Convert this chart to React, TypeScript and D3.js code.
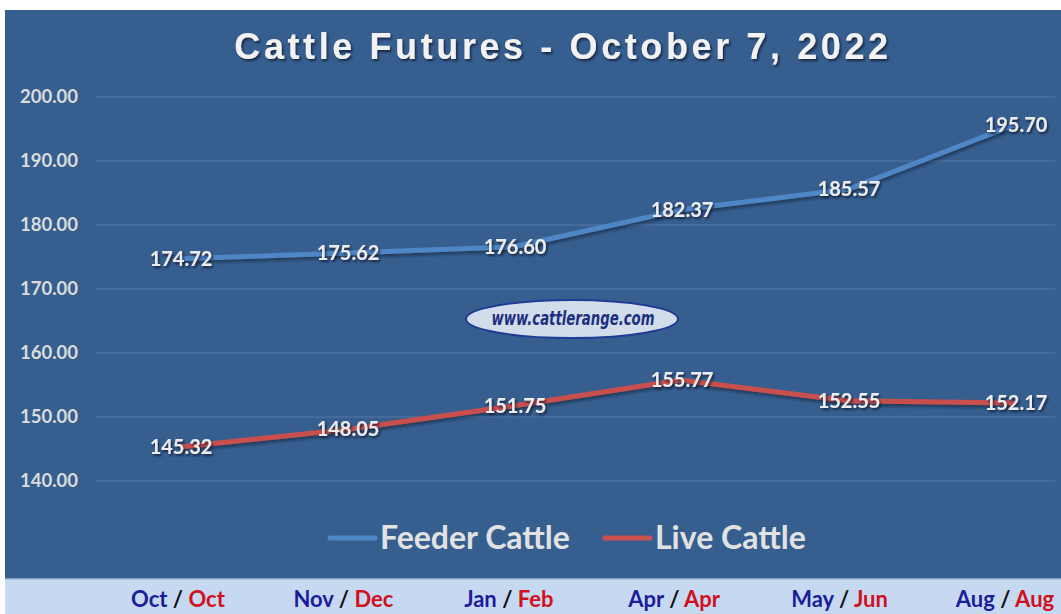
import React from "react";
import * as d3 from "d3";

const feederMonths = ["Oct", "Nov", "Jan", "Apr", "May", "Aug"];
const liveMonths = ["Oct", "Dec", "Feb", "Apr", "Jun", "Aug"];
const feederCattle = [174.72, 175.62, 176.6, 182.37, 185.57, 195.7];
const liveCattle = [145.32, 148.05, 151.75, 155.77, 152.55, 152.17];
const yTicks = [140, 150, 160, 170, 180, 190, 200];

const W = 1061;
const H = 614;
const FONT = "Lato, 'Open Sans', sans-serif";

const App: React.FC = () => {
  const idx = d3.range(feederCattle.length);

  // point scale for the line vertices
  const x = d3.scalePoint<number>().domain(idx).range([180, 1015]);
  // bottom strip labels sit on a slightly narrower spacing
  const xCat = d3.scalePoint<number>().domain(idx).range([178, 1005]);
  const y = d3.scaleLinear().domain([140, 200]).range([481, 97]);
  const fmt = d3.format(".2f");

  const line = d3
    .line<number>()
    .x((_, i) => x(i) as number)
    .y((d) => y(d));

  const series = [
    { name: "Feeder Cattle", values: feederCattle, color: "#4f86c6", lx: 330 },
    { name: "Live Cattle", values: liveCattle, color: "#c9504d", lx: 605 },
  ];

  return (
    <svg
      width={W}
      height={H}
      style={{ position: "absolute", left: 0, top: 0, background: "#fff" }}
    >
      <defs>
        <filter id="txtShadow" x="-20%" y="-30%" width="140%" height="160%">
          <feDropShadow dx="1.5" dy="2" stdDeviation="1.2" floodColor="#0b1a30" floodOpacity="0.8" />
        </filter>
        <filter id="lineShadow" x="-5%" y="-20%" width="110%" height="140%">
          <feDropShadow dx="1" dy="2.5" stdDeviation="1.5" floodColor="#0b1a30" floodOpacity="0.6" />
        </filter>
      </defs>

      {/* chart area */}
      <rect x={5} y={10} width={W - 5} height={569} fill="#365f90" />
      <rect x={5} y={579} width={W - 5} height={H - 579} fill="#c6d9f0" />
      <line x1={5} x2={W} y1={579} y2={579} stroke="#9cb8dc" strokeWidth={1.5} />

      {/* title */}
      <text
        x={563}
        y={59}
        textAnchor="middle"
        fontFamily="'Liberation Sans', Arial, sans-serif"
        fontWeight="bold"
        fontSize={36}
        letterSpacing={3.6}
        fill="#f2f2f2"
        filter="url(#txtShadow)"
      >
        Cattle Futures - October 7, 2022
      </text>

      {/* gridlines + y labels */}
      {yTicks.map((t) => (
        <g key={t}>
          <line x1={95} x2={1055} y1={y(t)} y2={y(t)} stroke="#5479a6" strokeWidth={1} />
          <text
            x={78}
            y={y(t) + 6}
            textAnchor="end"
            fontFamily={FONT}
            fontWeight="bold"
            fontSize={18.5}
            fill="#dcdcdc"
          >
            {fmt(t)}
          </text>
        </g>
      ))}

      {/* watermark */}
      <ellipse cx={572} cy={319} rx={106} ry={19} fill="#d3dcea" stroke="#1f3c96" strokeWidth={2} />
      <text
        x={573}
        y={325}
        textAnchor="middle"
        fontFamily="'Liberation Sans Narrow', 'DejaVu Sans Condensed', sans-serif"
        fontStyle="italic"
        fontWeight="bold"
        fontSize={19}
        textLength={163}
        lengthAdjust="spacingAndGlyphs"
        fill="#1c2f80"
      >
        www.cattlerange.com
      </text>

      {/* lines */}
      {series.map((s) => (
        <path
          key={s.name}
          d={line(s.values) ?? ""}
          fill="none"
          stroke={s.color}
          strokeWidth={5}
          strokeLinejoin="round"
          filter="url(#lineShadow)"
        />
      ))}

      {/* data labels */}
      {series.map((s) =>
        s.values.map((v, i) => (
          <text
            key={s.name + i}
            x={(x(i) as number) + 1}
            y={y(v) + 7}
            textAnchor="middle"
            fontFamily={FONT}
            fontWeight="bold"
            fontSize={20}
            fill="#ececec"
            filter="url(#txtShadow)"
          >
            {fmt(v)}
          </text>
        ))
      )}

      {/* legend */}
      {series.map((s) => (
        <g key={s.name}>
          <line x1={s.lx} x2={s.lx + 45} y1={538} y2={538} stroke={s.color} strokeWidth={5} strokeLinecap="round" />
          <text
            x={s.lx + 50}
            y={549}
            fontFamily={FONT}
            fontWeight="bold"
            fontSize={32}
            fill="#e2e2e2"
          >
            {s.name}
          </text>
        </g>
      ))}

      {/* bottom category labels */}
      {idx.map((i) => (
        <text
          key={i}
          x={xCat(i) as number}
          y={607}
          textAnchor="middle"
          fontFamily={FONT}
          fontWeight="bold"
          fontSize={22}
        >
          <tspan fill="#1c1c9c">{feederMonths[i]}</tspan>
          <tspan fill="#111"> / </tspan>
          <tspan fill="#d0101c">{liveMonths[i]}</tspan>
        </text>
      ))}
    </svg>
  );
};

export default App;
